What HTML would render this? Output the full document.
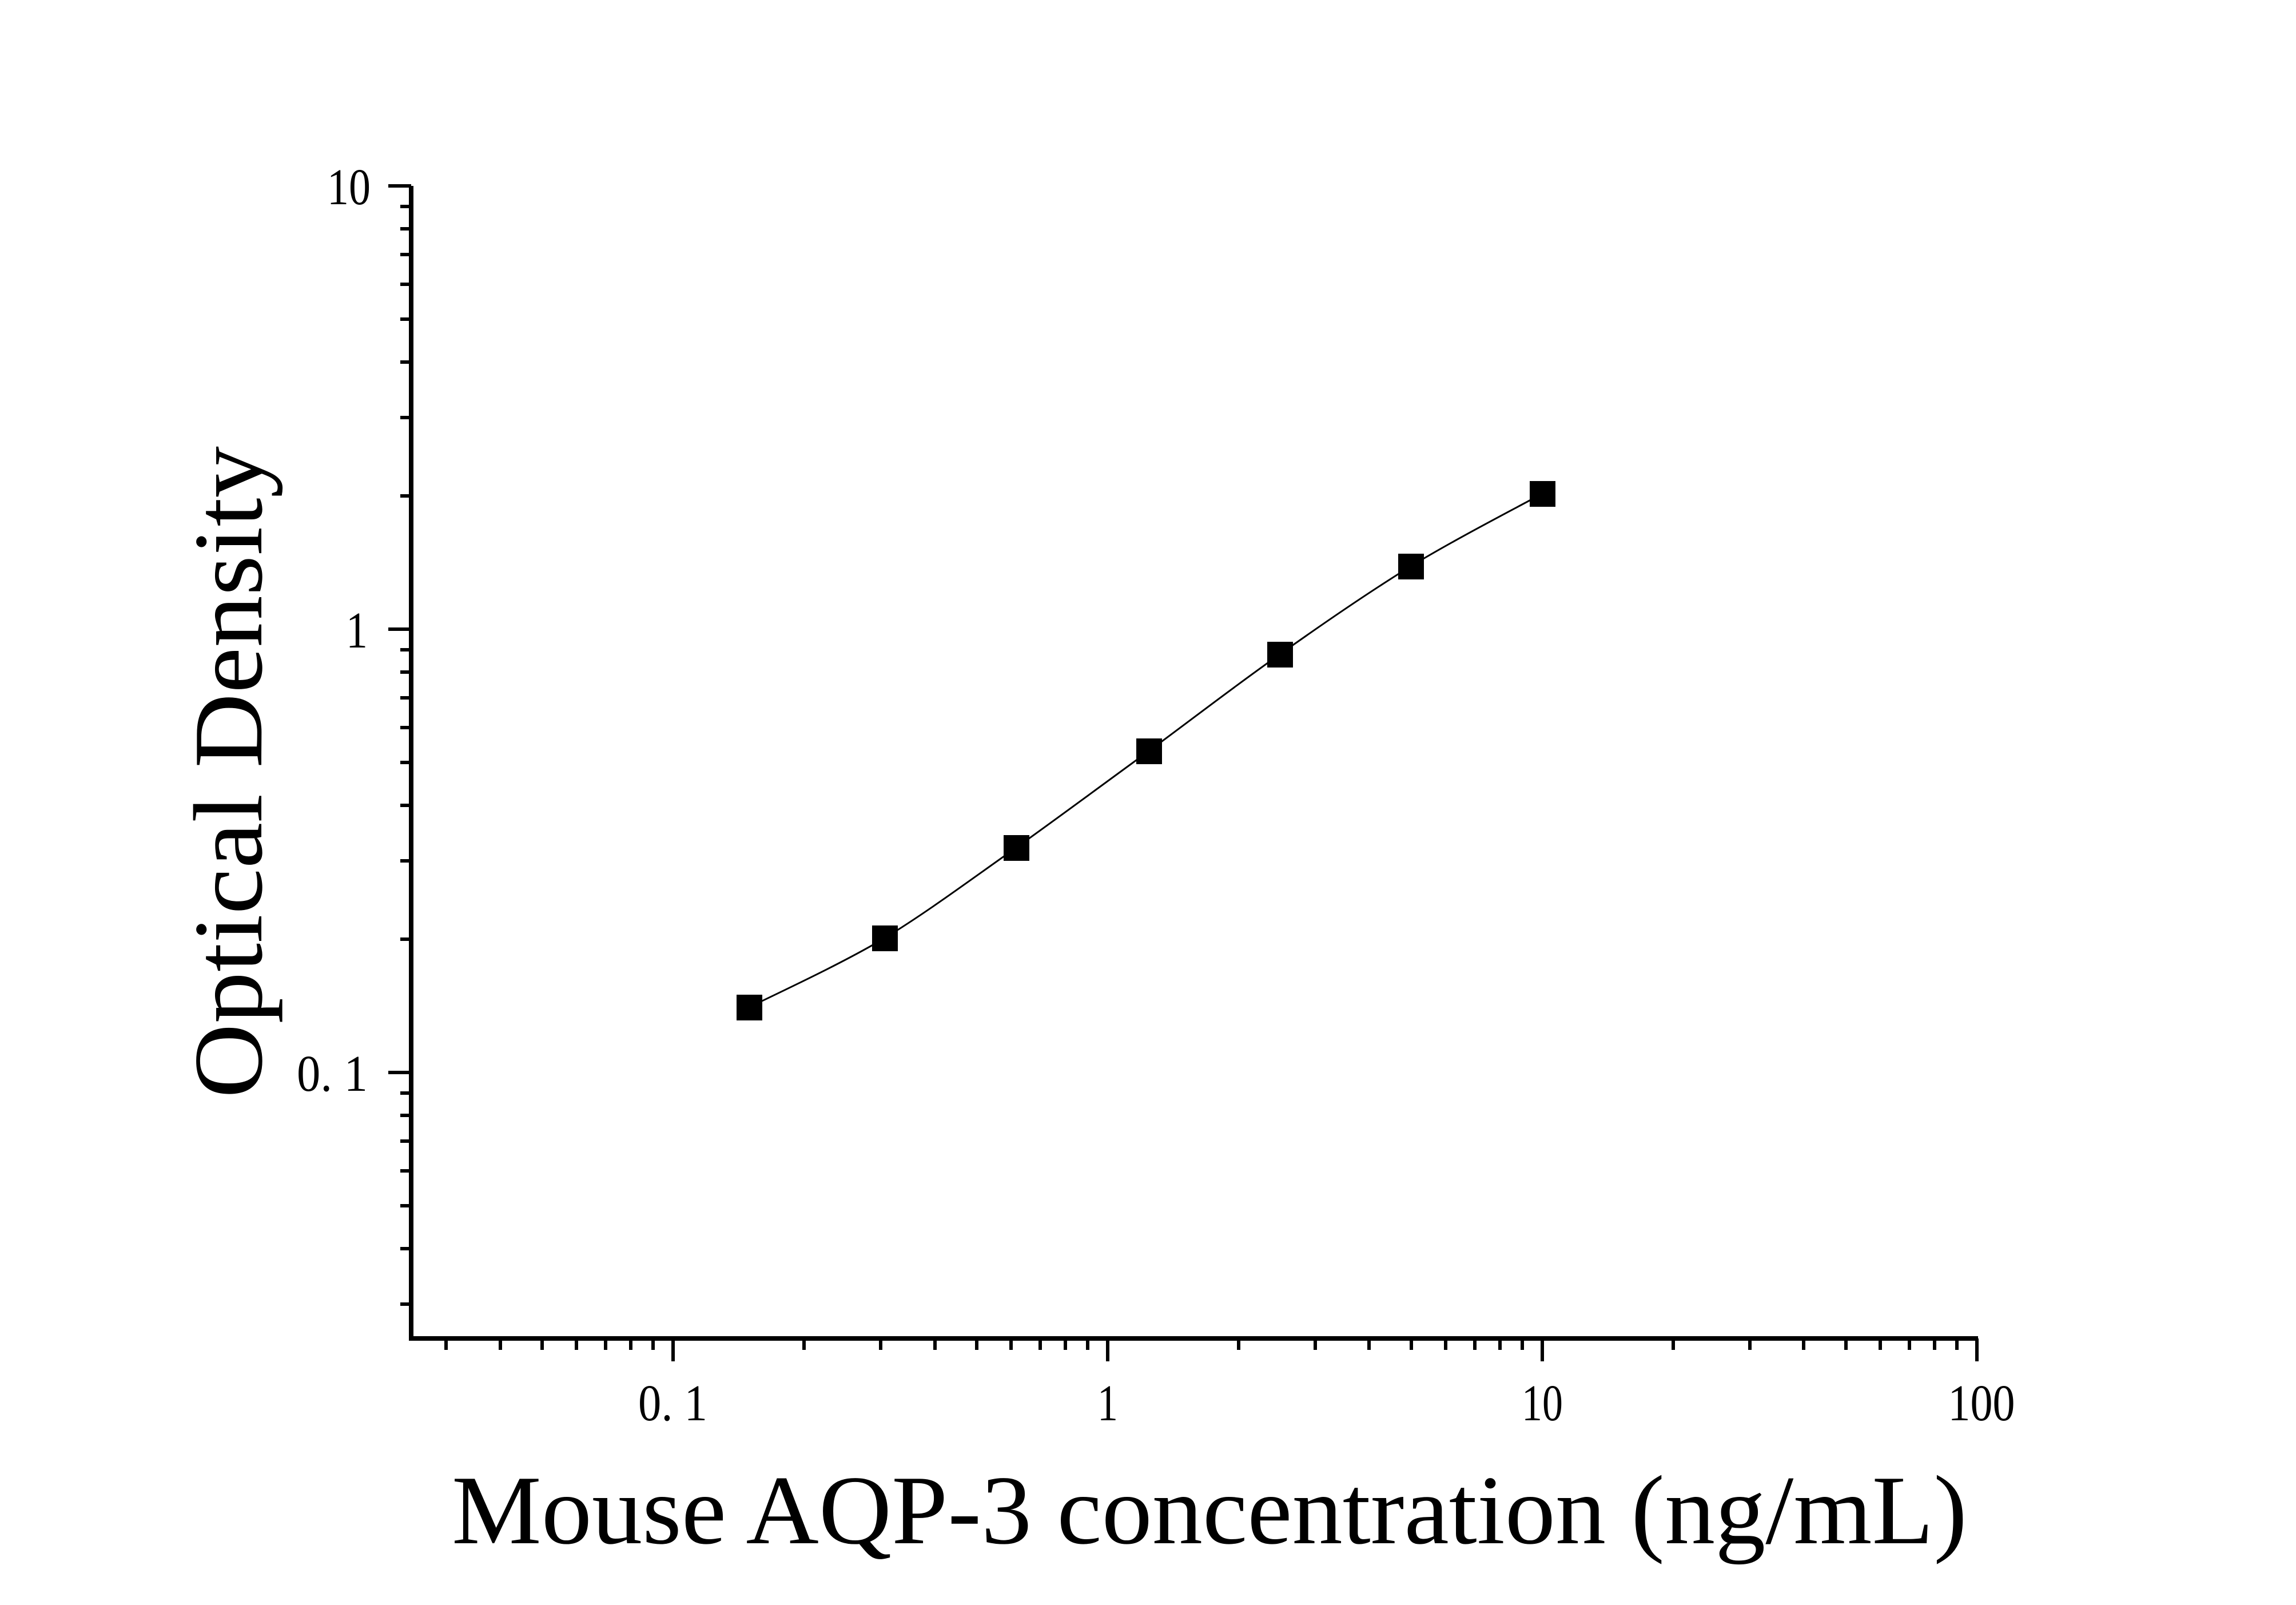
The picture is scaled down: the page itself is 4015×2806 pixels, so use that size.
<!DOCTYPE html>
<html><head><meta charset="utf-8"><style>html,body{margin:0;padding:0;background:#fff}svg{display:block}</style></head>
<body>
<svg width="4015" height="2806" viewBox="0 0 4015 2806" xmlns="http://www.w3.org/2000/svg" font-family="Liberation Serif, serif">
<rect width="4015" height="2806" fill="#fff"/>
<g stroke="#000" fill="none">
<line x1="719" y1="325" x2="719" y2="2344" stroke-width="8"/>
<line x1="715" y1="2340" x2="3459" y2="2340" stroke-width="8"/>
<g stroke-width="6">
<line x1="679" y1="325" x2="719" y2="325"/>
<line x1="679" y1="1100" x2="719" y2="1100"/>
<line x1="679" y1="1875" x2="719" y2="1875"/>
<line x1="1177" y1="2340" x2="1177" y2="2380"/>
<line x1="1937" y1="2340" x2="1937" y2="2380"/>
<line x1="2697" y1="2340" x2="2697" y2="2380"/>
<line x1="3457" y1="2340" x2="3457" y2="2380"/>
</g>
<g stroke-width="6">
<line x1="700" y1="867" x2="719" y2="867"/><line x1="700" y1="730" x2="719" y2="730"/><line x1="700" y1="633" x2="719" y2="633"/><line x1="700" y1="558" x2="719" y2="558"/><line x1="700" y1="497" x2="719" y2="497"/><line x1="700" y1="445" x2="719" y2="445"/><line x1="700" y1="400" x2="719" y2="400"/><line x1="700" y1="361" x2="719" y2="361"/>
<line x1="700" y1="1642" x2="719" y2="1642"/><line x1="700" y1="1505" x2="719" y2="1505"/><line x1="700" y1="1408" x2="719" y2="1408"/><line x1="700" y1="1333" x2="719" y2="1333"/><line x1="700" y1="1272" x2="719" y2="1272"/><line x1="700" y1="1220" x2="719" y2="1220"/><line x1="700" y1="1175" x2="719" y2="1175"/><line x1="700" y1="1136" x2="719" y2="1136"/>
<line x1="700" y1="2280" x2="719" y2="2280"/><line x1="700" y1="2183" x2="719" y2="2183"/><line x1="700" y1="2108" x2="719" y2="2108"/><line x1="700" y1="2047" x2="719" y2="2047"/><line x1="700" y1="1995" x2="719" y2="1995"/><line x1="700" y1="1950" x2="719" y2="1950"/><line x1="700" y1="1911" x2="719" y2="1911"/>
<line x1="780" y1="2340" x2="780" y2="2360"/><line x1="875" y1="2340" x2="875" y2="2360"/><line x1="948" y1="2340" x2="948" y2="2360"/><line x1="1008" y1="2340" x2="1008" y2="2360"/><line x1="1059" y1="2340" x2="1059" y2="2360"/><line x1="1103" y1="2340" x2="1103" y2="2360"/><line x1="1142" y1="2340" x2="1142" y2="2360"/>
<line x1="1406" y1="2340" x2="1406" y2="2360"/><line x1="1540" y1="2340" x2="1540" y2="2360"/><line x1="1635" y1="2340" x2="1635" y2="2360"/><line x1="1708" y1="2340" x2="1708" y2="2360"/><line x1="1768" y1="2340" x2="1768" y2="2360"/><line x1="1819" y1="2340" x2="1819" y2="2360"/><line x1="1863" y1="2340" x2="1863" y2="2360"/><line x1="1902" y1="2340" x2="1902" y2="2360"/>
<line x1="2166" y1="2340" x2="2166" y2="2360"/><line x1="2300" y1="2340" x2="2300" y2="2360"/><line x1="2394" y1="2340" x2="2394" y2="2360"/><line x1="2468" y1="2340" x2="2468" y2="2360"/><line x1="2528" y1="2340" x2="2528" y2="2360"/><line x1="2579" y1="2340" x2="2579" y2="2360"/><line x1="2623" y1="2340" x2="2623" y2="2360"/><line x1="2662" y1="2340" x2="2662" y2="2360"/>
<line x1="2926" y1="2340" x2="2926" y2="2360"/><line x1="3060" y1="2340" x2="3060" y2="2360"/><line x1="3154" y1="2340" x2="3154" y2="2360"/><line x1="3228" y1="2340" x2="3228" y2="2360"/><line x1="3288" y1="2340" x2="3288" y2="2360"/><line x1="3339" y1="2340" x2="3339" y2="2360"/><line x1="3383" y1="2340" x2="3383" y2="2360"/><line x1="3422" y1="2340" x2="3422" y2="2360"/>
</g>
</g>
<path d="M1310,1761 C1350,1741 1470,1686 1547,1640 C1624,1593 1700,1536 1777,1482 C1854,1427 1932,1369 2009,1313 C2085,1257 2161,1198 2238,1144 C2314,1090 2391,1037 2467,990 C2544,943 2659,884 2697,863" fill="none" stroke="#000" stroke-width="3"/>
<g fill="#000">
<rect x="1288" y="1739" width="45" height="45"/>
<rect x="1525" y="1618" width="45" height="45"/>
<rect x="1755" y="1460" width="45" height="45"/>
<rect x="1987" y="1291" width="45" height="45"/>
<rect x="2216" y="1122" width="45" height="45"/>
<rect x="2445" y="968" width="45" height="45"/>
<rect x="2675" y="841" width="45" height="45"/>
</g>
<g font-size="90" fill="#000">
<text x="648" y="357" text-anchor="end" textLength="76" lengthAdjust="spacingAndGlyphs">10</text>
<text x="643" y="1132" text-anchor="end" textLength="38" lengthAdjust="spacingAndGlyphs">1</text>
<text x="643" y="1907" text-anchor="end" textLength="124" lengthAdjust="spacingAndGlyphs">0. 1</text>
<text x="1116" y="2483" textLength="121" lengthAdjust="spacingAndGlyphs">0. 1</text>
<text x="1937" y="2483" text-anchor="middle" textLength="36" lengthAdjust="spacingAndGlyphs">1</text>
<text x="2697" y="2483" text-anchor="middle" textLength="72" lengthAdjust="spacingAndGlyphs">10</text>
<text x="3465" y="2483" text-anchor="middle" textLength="117" lengthAdjust="spacingAndGlyphs">100</text>
</g>
<text x="790" y="2698" font-size="172" textLength="2650" lengthAdjust="spacingAndGlyphs" fill="#000">Mouse AQP-3 concentration (ng/mL)</text>
<text transform="translate(457,1920) rotate(-90)" x="0" y="0" font-size="172" textLength="1140" lengthAdjust="spacingAndGlyphs" fill="#000">Optical Density</text>
</svg>
</body></html>
